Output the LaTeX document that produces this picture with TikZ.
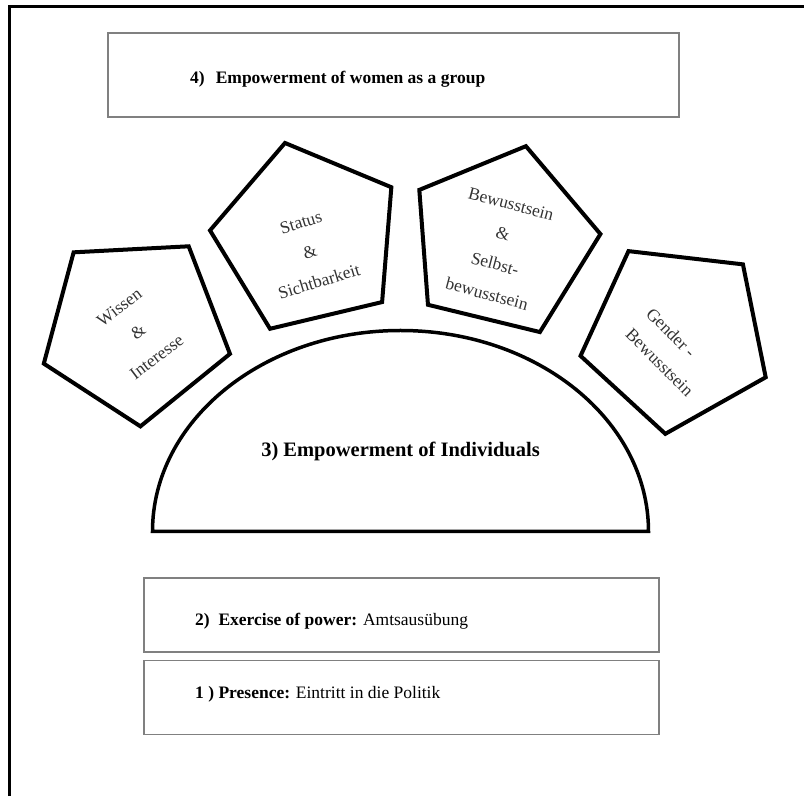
\documentclass[tikz,border=0pt]{standalone}
\usepackage{fontspec}
\setmainfont{Liberation Serif}
\usetikzlibrary{shapes.geometric, positioning}

\begin{document}
\begin{tikzpicture}[
        x=1pt, y=1pt,
        frame/.style={line width=3pt},
        box/.style={
            draw=black!50,
            line width=1.2pt,
            minimum width=515pt,
            minimum height=74pt,
            inner sep=0pt
        },
        penta/.style={
            draw,
            regular polygon,
            regular polygon sides=5,
            minimum size=196pt,
            line width=4pt,
            inner sep=0pt,
            outer sep=0pt
        },
        lbl/.style={
            align=center,
            text=black!80,
            font=\fontsize{17.5}{31}\selectfont
        },
        boxtext/.style={
            anchor=base west,
            inner sep=0pt,
            font=\fontsize{17.5}{21}\selectfont
        }
    ]
    \useasboundingbox (0,0) rectangle (804,796);
    \draw[frame] (9.5,0) -- (9.5,789.5) -- (804,789.5);

    % 4) group level
    \node[box, minimum width=571pt, minimum height=84pt] (group) at (393.5,721) {};
    \node[boxtext] (grouptext) at (190,712) {\textbf{4)\hspace{11pt}Empowerment of women as a group}};

    % 3) individuals
    \draw[line width=3.5pt] (152.5,264.5) arc[start angle=180, end angle=0, x radius=248, y radius=201] -- cycle;
    \node[anchor=base, font=\fontsize{20.5}{24}\selectfont\bfseries] (indiv) at (400.5,339) {3) Empowerment of Individuals};

    \node[penta, rotate=39] (wissen) at (135.3,467.5) {};
    \node[lbl, rotate=37] (wissentext) at (138,464) {Wissen\\\&\\Interesse};

    \node[penta, rotate=13.4] (status) at (307.7,557.7) {};
    \node[lbl, rotate=17] (statustext) at (310,544) {Status\\\&\\Sichtbarkeit};

    \node[penta, rotate=-13.7] (bewusst) at (502.7,554.6) {};
    \node[lbl, rotate=-15] (bewussttext) at (499,547) {Bewusstsein\\\&\\Selbst-\\bewusstsein};

    \node[penta, rotate=-42.6] (gender) at (676.6,459.5) {};
    \node[lbl, align=left, rotate=-45, font=\fontsize{17.5}{29}\selectfont] (gendertext) at (670,444) {Gender -\\Bewusstsein};

    % 2) and 1)
    \node[box] (power) at (401.5,181) {};
    \node[box, below=7pt of power] (presence) {};
    \node[boxtext] (powertext) at (195,170) {\textbf{2)\ \ Exercise of power:} Amtsausübung};
    \node[boxtext] (presencetext) at (195,97) {\textbf{1 ) Presence:} Eintritt in die Politik};
\end{tikzpicture}
\end{document}
